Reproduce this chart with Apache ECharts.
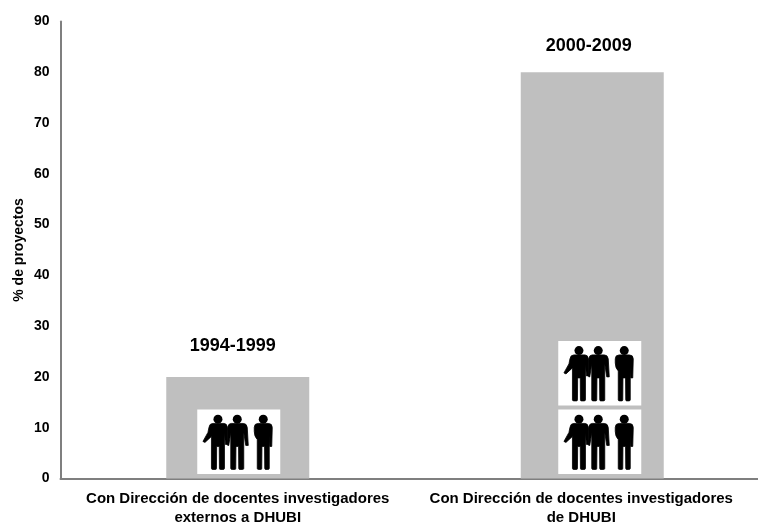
<!DOCTYPE html>
<html><head><meta charset="utf-8">
<style>html,body{margin:0;padding:0;background:#fff}#c{width:758px;height:524px}</style>
<script src="https://cdn.jsdelivr.net/npm/echarts@6/dist/echarts.min.js"></script>
</head><body><div id="c"></div>
<script>
const categories = ['Con Dirección de docentes investigadores\nexternos a DHUBI','Con Dirección de docentes investigadores\nde DHUBI'];
const values = [20, 80];
const periods = ['1994-1999','2000-2009'];
const yTicks = [0,90];
const iconCategory = [0, 1, 1];
const iconValues = [7.3, 7.3, 20.8];

const FONT = '"Liberation Sans", Arial, sans-serif';
const chart = echarts.init(document.getElementById('c'), null, {renderer:'canvas'});

const bodies = [
 {x:20.7, d:'M-5,14 L6,14 Q9,14 9.5,18 L10,35 L7.5,35 L6.5,23 L6.5,59 Q6.5,60 5,60 L2.5,60 Q1.5,60 1.5,59 L1.3,37 L-1.3,37 L-1.5,59 Q-1.5,60 -2.5,60 L-5,60 Q-6.5,60 -6.5,59 L-6.5,27 L-13,33 L-15,32 L-10,23 L-9,18 Q-8.5,14 -5,14 Z'},
 {x:40, d:'M-6,14 L6,14 Q9.5,14 10,18 L11,36 L8.5,36 L6.5,23 L6.5,59 Q6.5,60 5,60 L2.5,60 Q1.5,60 1.5,59 L1.3,37 L-1.3,37 L-1.5,59 Q-1.5,60 -2.5,60 L-5,60 Q-6.5,60 -6.5,59 L-6.5,23 L-8.5,36 L-9.5,36 L-9.5,18 Q-9,14 -6,14 Z'},
 {x:66, d:'M-5,14 L5,14 Q9,14 9,18 L8.5,37 L6.5,37 L6,26 L6,59 Q6,60 4.5,60 L2.5,60 Q1.5,60 1.5,59 L1.3,37 L-1.3,37 L-1.5,59 Q-1.5,60 -2.5,60 L-4.5,60 Q-6,60 -6,59 L-6,30 Q-9,27 -9,22 L-9,18 Q-9,14 -5,14 Z'}
];
const iconShift = [1, 7.5];
const labelOffsets = [[-5,1],[-3.5,6]];

function renderIcon(params, api){
  const cat = api.value(0);
  const p = api.coord([cat, api.value(1)]);
  const children = [{type:'rect', shape:{x:0,y:0,width:83,height:64.5}, style:{fill:'#fff'}}];
  bodies.forEach(b=>{
    children.push({type:'circle', shape:{cx:b.x,cy:9.7,r:4.5}, style:{fill:'#000'}});
    children.push({type:'path', x:b.x, y:0, shape:{pathData:b.d}, style:{fill:'#000',stroke:'#000',lineWidth:0.8,lineJoin:'round'}});
  });
  return {type:'group', x:p[0]+iconShift[cat]-41.5, y:p[1]-32, children};
}

chart.setOption({
  animation:false,
  backgroundColor:'#fff',
  grid:{left:60.5, top:21.5, width:709, height:457, outerBoundsMode:'none'},
  xAxis:{
    type:'category', data:categories,
    axisTick:{show:false},
    axisLine:{lineStyle:{color:'#7f7f7f',width:2}},
    axisLabel:{
      interval:0, margin:11, color:'#000',
      formatter:(v,i)=>v.split('\n').map(s=>`{${i?'b':'a'}|${s}}`).join('\n'),
      rich:{
        a:{fontFamily:FONT,fontWeight:'bold',fontSize:15,lineHeight:19,color:'#000'},
        b:{fontFamily:FONT,fontWeight:'bold',fontSize:15,lineHeight:19,color:'#000',padding:[0,22,0,0]}
      }
    }
  },
  yAxis:{
    type:'value', min:yTicks[0], max:yTicks[1], interval:10,
    name:'% de proyectos', nameLocation:'middle', nameGap:41, nameRotate:90, nameMoveOverlap:false,
    nameTextStyle:{fontFamily:FONT,fontWeight:'bold',fontSize:14,color:'#000',verticalAlign:'middle'},
    splitLine:{show:false}, axisTick:{show:false},
    axisLine:{show:true,lineStyle:{color:'#7f7f7f',width:2}},
    axisLabel:{fontFamily:FONT,fontWeight:'bold',fontSize:14,color:'#000',margin:11}
  },
  series:[
    {type:'bar', data:values.map((v,i)=>({value:v,label:{offset:labelOffsets[i]}})), barWidth:143, itemStyle:{color:'#bfbfbf'},
     label:{show:true,position:'top',distance:23,formatter:p=>periods[p.dataIndex],
            fontFamily:FONT,fontWeight:'bold',fontSize:18,color:'#000'}},
    {type:'custom', renderItem:renderIcon, z:5, silent:true, clip:false,
     data:iconCategory.map((c,i)=>[c,iconValues[i]])}
  ]
});
</script></body></html>
